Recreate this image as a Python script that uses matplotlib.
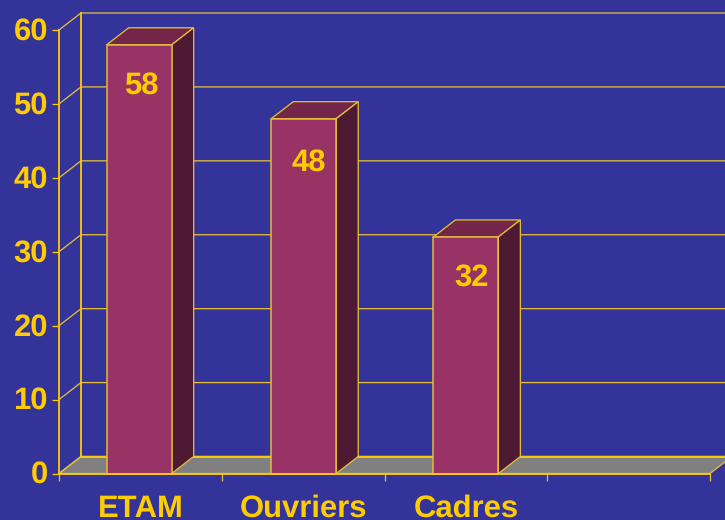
import matplotlib
matplotlib.use("Agg")
import matplotlib.pyplot as plt
import numpy as np
from matplotlib.transforms import ScaledTranslation

categories = ["ETAM", "Ouvriers", "Cadres"]
values = [58, 48, 32]
y_ticks = [0, 10, 20, 30, 40, 50, 60]
slots = 4

BG = "#333399"
YEL = "#FFCC00"
LINE = "#E3BE3A"
FRONT = "#993366"
TOP = "#732649"
SIDE = "#4D1933"
FLOOR = "#808080"
FS = 22.4
FS_CAT = 22

plt.rcParams["font.family"] = ["Liberation Sans", "DejaVu Sans"]
plt.rcParams["text.hinting"] = "no_hinting"
plt.rcParams["text.hinting_factor"] = 1
W, H = 725, 520
fig = plt.figure(figsize=(W / 100, H / 100), dpi=100, facecolor=BG)
ax = fig.add_axes([59 / W, (H - 473.5) / H, (710 - 59) / W, (473.5 - 30) / H])
ax.set_facecolor("none")
ax.set_xlim(0, slots)
ax.set_ylim(0, y_ticks[-1])
for s in ax.spines.values():
    s.set_visible(False)

# pseudo-3D depth, in data units
unit_x = (710 - 59) / slots
dx = 22 / unit_x
dy = 17 / ((473.5 - 30) / y_ticks[-1])
px = 0.72
far = slots + 0.2

# floor
ax.fill([0, slots, slots + dx, dx], [0, 0, dy, dy], facecolor=FLOOR, edgecolor=LINE,
        lw=1.3 * px, clip_on=False, zorder=1)
# back wall grid and side wall diagonals
for t in y_ticks:
    ax.plot([0, dx, far], [t, t + dy, t + dy], color=LINE, lw=1.3 * px, clip_on=False,
            zorder=2, solid_joinstyle="miter")
ax.plot([dx, dx], [0 + dy, y_ticks[-1] + dy], color=YEL, lw=1.8 * px, clip_on=False, zorder=2)
ax.plot([dx, far], [dy, dy], color=YEL, lw=1.8 * px, clip_on=False, zorder=2)
ax.plot([0, 0], [0, y_ticks[-1]], color=YEL, lw=1.8 * px, clip_on=False, zorder=2)

# bars
bar_nudge = np.array([-1.2, 0.6, 0.0]) / unit_x
centers = np.arange(len(values)) + 0.5
bar_x = centers + bar_nudge
bw = 65 / unit_x
ax.bar(bar_x, values, width=bw, color=FRONT, edgecolor=LINE, linewidth=1.5 * px, zorder=4,
       clip_on=False)
for c, v in zip(bar_x, values):
    l, r = c - bw / 2, c + bw / 2
    ax.fill([l, r, r + dx, l + dx], [v, v, v + dy, v + dy], facecolor=TOP, edgecolor=LINE,
            lw=1.3 * px, clip_on=False, zorder=3)
    ax.fill([r, r + dx, r + dx, r], [0, dy, v + dy, v], facecolor=SIDE, edgecolor=LINE,
            lw=1.3 * px, clip_on=False, zorder=3)

# front floor edge above the bars
ax.plot([0, slots], [0, 0], color=YEL, lw=1.8 * px, clip_on=False, zorder=5)

# value labels
label_dx = [1, 6, 5.5]
label_dy = [-41, -44, -41]
for c, v, d, e in zip(centers, values, label_dx, label_dy):
    ax.annotate(str(v), (c, v), xytext=(d * px, e * px), textcoords="offset points",
                ha="center", va="center", color=YEL, fontsize=FS, fontweight="bold", zorder=6)

# axes ticks and labels
ax.set_yticks(y_ticks)
ax.set_yticklabels([str(t) for t in y_ticks], color=YEL, fontsize=FS, fontweight="bold")
ax.tick_params(axis="y", length=7 * px, width=1.3 * px, color=YEL, pad=4 * px)
for lab in ax.get_yticklabels():
    lab.set_transform(lab.get_transform() + ScaledTranslation(0, 1.2 / 72, fig.dpi_scale_trans))
ax.set_xticks(np.arange(slots + 1))
ax.set_xticklabels([""] * (slots + 1))
ax.tick_params(axis="x", which="major", length=7 * px, width=1.3 * px, color=LINE)
ax.set_xticks(centers, minor=True)
ax.set_xticklabels(categories, minor=True, color=YEL, fontsize=FS_CAT, fontweight="bold")
ax.tick_params(axis="x", which="minor", length=0, pad=21 * px)

fig.savefig("out.png", dpi=100, facecolor=BG)
